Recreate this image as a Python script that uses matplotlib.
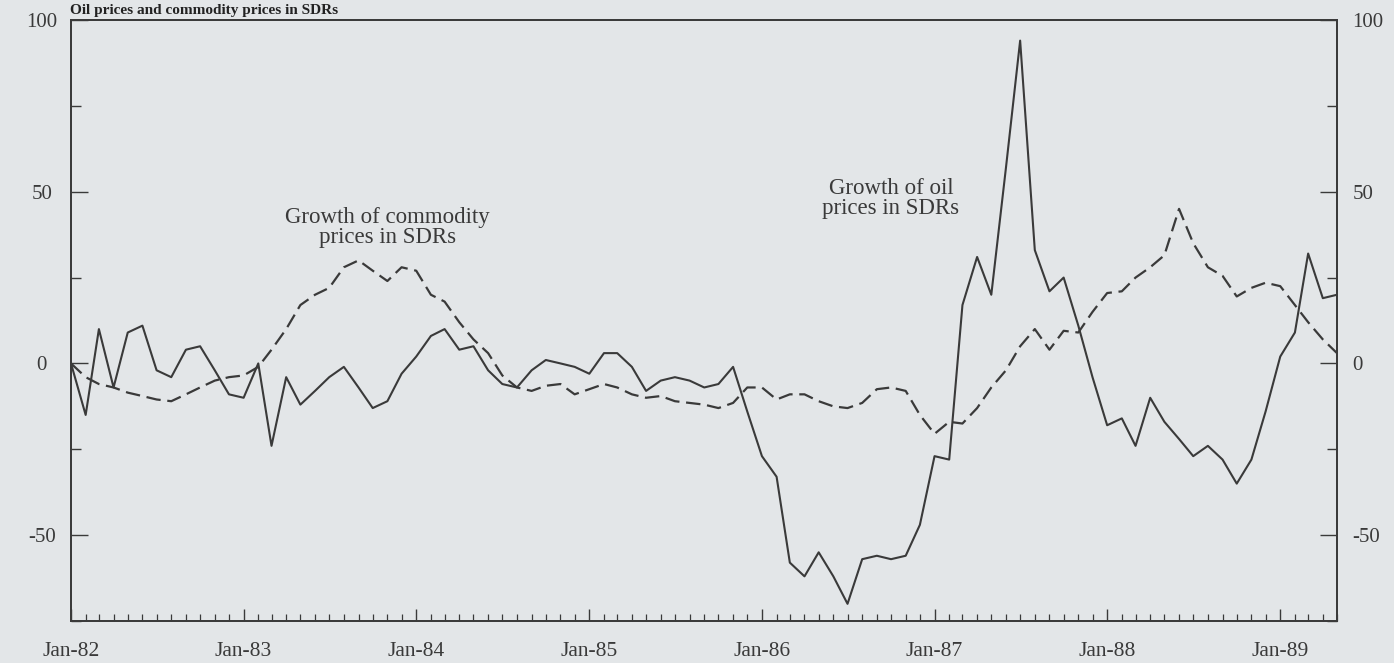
import numpy as np
import pandas as pd
import matplotlib
matplotlib.use("Agg")
import matplotlib.pyplot as plt
import matplotlib.dates as mdates

plt.rcParams["axes.unicode_minus"] = False

# monthly growth rates, Jan-82 .. May-89 (percent)
months = pd.date_range("1982-01-01", periods=89, freq="MS")

oil_growth = [
    0, -15, 10, -7, 9, 11, -2, -4, 4, 5, -2, -9,          # 1982
    -10, 0, -24, -4, -12, -8, -4, -1, -7, -13, -11, -3,   # 1983
    2, 8, 10, 4, 5, -2, -6, -7, -2, 1, 0, -1,             # 1984
    -3, 3, 3, -1, -8, -5, -4, -5, -7, -6, -1, -14,        # 1985
    -27, -33, -58, -62, -55, -62, -70, -57, -56, -57, -56, -47,  # 1986
    -27, -28, 17, 31, 20, 57, 94, 33, 21, 25, 11, -4,     # 1987
    -18, -16, -24, -10, -17, -22, -27, -24, -28, -35, -28, -14,  # 1988
    2, 9, 32, 19, 20,                                     # 1989
]

commodity_growth = [
    0, -4, -6, -7, -8.5, -9.5, -10.5, -11, -9, -7, -5, -4,
    -3.5, -1, 4, 10, 17, 20, 22, 28, 30, 27, 24, 28,
    27, 20, 18, 12, 7, 3, -3.5, -7, -8, -6.5, -6, -9,
    -7.5, -6, -7, -9, -10, -9.5, -11, -11.5, -12, -13, -11.5, -7,
    -7, -10.5, -9, -9, -11, -12.5, -13, -11.5, -7.5, -7, -8, -15,
    -20.5, -17, -17.5, -13, -7, -2, 5, 10, 4, 9.5, 9, 15,
    20.5, 21, 25, 28, 31.5, 45, 35, 28, 25.5, 19.5, 22, 23.5,
    22.5, 17, 12, 7, 3,
]

y_major = [-50, 0, 50, 100]
y_minor = [-75, -25, 25, 75]

bg = "#e3e6e8"
ink = "#3a3a3a"
serif = ["Liberation Serif", "DejaVu Serif"]

fig = plt.figure(figsize=(13.94, 6.63), dpi=100, facecolor=bg)
ax = fig.add_axes([71 / 1394, 1 - 621 / 663, (1337 - 71) / 1394, (621 - 20) / 663])
ax.set_facecolor(bg)

ax.plot(months, oil_growth, color=ink, lw=1.5)
ax.plot(months, commodity_growth, color=ink, lw=1.6, linestyle=(0, (6.5, 3)))

ax.set_xlim(months[0], months[-1])
ax.set_ylim(-75, 100)

# x axis: year labels, monthly ticks
ax.xaxis.set_major_locator(mdates.YearLocator())
ax.xaxis.set_minor_locator(mdates.MonthLocator())
ax.xaxis.set_major_formatter(mdates.DateFormatter("%b-%y"))
ax.tick_params(axis="x", which="major", direction="in", length=9, width=1.0,
               pad=15, labelsize=15.5, colors=ink)
ax.tick_params(axis="x", which="minor", direction="in", length=5, width=0.9, colors=ink)

# left y axis, labels centred under x~42px
ax.set_yticks(y_major)
ax.set_yticks(y_minor, minor=True)
ax.tick_params(axis="y", which="major", direction="in", length=12, width=1.0,
               pad=21, labelsize=15, colors=ink)
ax.tick_params(axis="y", which="minor", direction="in", length=7, width=1.0, colors=ink)
for lab in ax.get_yticklabels():
    lab.set_ha("center")

# right y axis with the same scale
ax2 = ax.twinx()
ax2.set_ylim(ax.get_ylim())
ax2.set_yticks(y_major)
ax2.set_yticks(y_minor, minor=True)
ax2.tick_params(axis="y", which="major", direction="in", length=12, width=1.0,
                pad=11, labelsize=15, colors=ink)
ax2.tick_params(axis="y", which="minor", direction="in", length=7, width=1.0, colors=ink)

for lab in ax.get_xticklabels() + ax.get_yticklabels() + ax2.get_yticklabels():
    lab.set_family(serif)

for a in (ax, ax2):
    for s in a.spines.values():
        s.set_color(ink)
        s.set_linewidth(1.3)

ax.text(pd.Timestamp("1983-11-01"), 39.5, "Growth of commodity\nprices in SDRs",
        ha="center", va="center", fontsize=16.5, family=serif, color=ink,
        linespacing=0.95)
ax.text(pd.Timestamp("1986-10-01"), 48, "Growth of oil\nprices in SDRs",
        ha="center", va="center", fontsize=16.5, family=serif, color=ink,
        linespacing=0.95)

# chart title in the strip above the frame
fig.text(70 / 1394, 1 - 14 / 663, "Oil prices and commodity prices in SDRs",
         ha="left", va="baseline", fontsize=11, fontweight="bold",
         family=serif, color="#222222")

fig.savefig("out.png", dpi=100, facecolor=bg)
